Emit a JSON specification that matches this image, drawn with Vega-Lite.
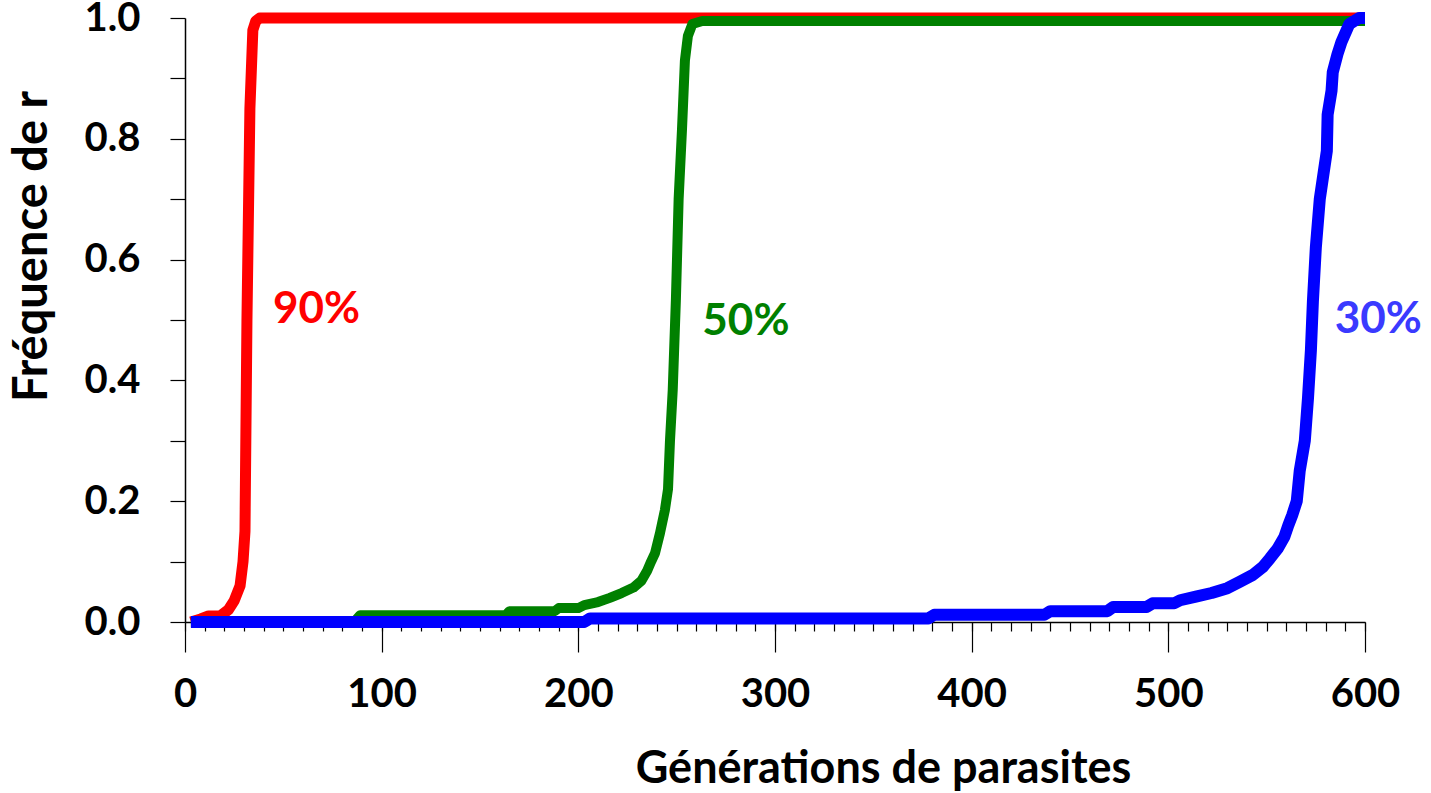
{
  "$schema": "https://vega.github.io/schema/vega-lite/v6.json",
  "width": 1180,
  "height": 604,
  "autosize": {"type": "none"},
  "padding": {"left": 185, "top": 18, "right": 66, "bottom": 171},
  "background": "white",
  "config": {"view": {"stroke": null}, "font": "Lato", "axis": {"grid": false}},
  "datasets": {
    "curves": [
      {"series": "90%", "x": 3, "y": 0},
      {"series": "90%", "x": 8, "y": 0.005},
      {"series": "90%", "x": 12, "y": 0.01},
      {"series": "90%", "x": 18, "y": 0.01},
      {"series": "90%", "x": 22, "y": 0.02},
      {"series": "90%", "x": 25, "y": 0.035},
      {"series": "90%", "x": 28, "y": 0.06},
      {"series": "90%", "x": 29.5, "y": 0.1},
      {"series": "90%", "x": 30.5, "y": 0.15},
      {"series": "90%", "x": 31.5, "y": 0.5},
      {"series": "90%", "x": 33, "y": 0.85},
      {"series": "90%", "x": 34.5, "y": 0.98},
      {"series": "90%", "x": 36, "y": 0.995},
      {"series": "90%", "x": 38, "y": 1.0},
      {"series": "90%", "x": 600, "y": 1.0},

      {"series": "50%", "x": 3, "y": 0},
      {"series": "50%", "x": 86, "y": 0},
      {"series": "50%", "x": 89, "y": 0.011},
      {"series": "50%", "x": 163, "y": 0.011},
      {"series": "50%", "x": 165, "y": 0.018},
      {"series": "50%", "x": 188, "y": 0.018},
      {"series": "50%", "x": 190, "y": 0.023},
      {"series": "50%", "x": 200, "y": 0.023},
      {"series": "50%", "x": 203, "y": 0.028},
      {"series": "50%", "x": 210, "y": 0.033},
      {"series": "50%", "x": 216, "y": 0.04},
      {"series": "50%", "x": 222, "y": 0.048},
      {"series": "50%", "x": 228, "y": 0.057},
      {"series": "50%", "x": 232, "y": 0.068},
      {"series": "50%", "x": 235, "y": 0.085},
      {"series": "50%", "x": 237, "y": 0.1},
      {"series": "50%", "x": 239, "y": 0.114},
      {"series": "50%", "x": 241.5, "y": 0.147},
      {"series": "50%", "x": 244, "y": 0.185},
      {"series": "50%", "x": 245.6, "y": 0.22},
      {"series": "50%", "x": 246.6, "y": 0.3},
      {"series": "50%", "x": 248, "y": 0.384},
      {"series": "50%", "x": 249.6, "y": 0.533},
      {"series": "50%", "x": 251, "y": 0.7},
      {"series": "50%", "x": 252.7, "y": 0.815},
      {"series": "50%", "x": 254.2, "y": 0.93},
      {"series": "50%", "x": 255.7, "y": 0.97},
      {"series": "50%", "x": 258, "y": 0.99},
      {"series": "50%", "x": 263, "y": 0.995},
      {"series": "50%", "x": 600, "y": 0.995},

      {"series": "30%", "x": 3, "y": 0},
      {"series": "30%", "x": 203, "y": 0},
      {"series": "30%", "x": 206, "y": 0.006},
      {"series": "30%", "x": 378, "y": 0.006},
      {"series": "30%", "x": 381, "y": 0.012},
      {"series": "30%", "x": 437, "y": 0.012},
      {"series": "30%", "x": 440, "y": 0.018},
      {"series": "30%", "x": 469, "y": 0.018},
      {"series": "30%", "x": 472, "y": 0.025},
      {"series": "30%", "x": 489, "y": 0.025},
      {"series": "30%", "x": 492, "y": 0.031},
      {"series": "30%", "x": 503, "y": 0.031},
      {"series": "30%", "x": 506, "y": 0.036},
      {"series": "30%", "x": 514, "y": 0.042},
      {"series": "30%", "x": 522, "y": 0.048},
      {"series": "30%", "x": 530, "y": 0.056},
      {"series": "30%", "x": 536, "y": 0.066},
      {"series": "30%", "x": 543, "y": 0.078},
      {"series": "30%", "x": 548, "y": 0.091},
      {"series": "30%", "x": 551.6, "y": 0.105},
      {"series": "30%", "x": 555.7, "y": 0.122},
      {"series": "30%", "x": 559, "y": 0.141},
      {"series": "30%", "x": 561, "y": 0.16},
      {"series": "30%", "x": 563, "y": 0.177},
      {"series": "30%", "x": 565.3, "y": 0.2},
      {"series": "30%", "x": 566.8, "y": 0.25},
      {"series": "30%", "x": 569.4, "y": 0.3},
      {"series": "30%", "x": 571, "y": 0.37},
      {"series": "30%", "x": 572.5, "y": 0.45},
      {"series": "30%", "x": 573.5, "y": 0.53},
      {"series": "30%", "x": 575, "y": 0.62},
      {"series": "30%", "x": 577, "y": 0.7},
      {"series": "30%", "x": 580.6, "y": 0.78},
      {"series": "30%", "x": 581, "y": 0.84},
      {"series": "30%", "x": 583, "y": 0.88},
      {"series": "30%", "x": 583.6, "y": 0.91},
      {"series": "30%", "x": 586, "y": 0.94},
      {"series": "30%", "x": 588, "y": 0.96},
      {"series": "30%", "x": 592, "y": 0.99},
      {"series": "30%", "x": 597, "y": 1.0},
      {"series": "30%", "x": 600, "y": 1.0}
    ],
    "labels": [
      {"series": "90%", "x": 66.9, "y": 0.517},
      {"series": "50%", "x": 285.2, "y": 0.496},
      {"series": "30%", "x": 606.8, "y": 0.5}
    ]
  },
  "resolve": {"axis": {"x": "independent", "y": "independent"}},
  "layer": [
    {
      "data": {"name": "curves"},
      "transform": [{"filter": "datum.series === '90%'"}],
      "mark": {"type": "line", "color": "#ff0000", "strokeWidth": 11, "strokeJoin": "round", "clip": false},
      "encoding": {
        "x": {
          "field": "x", "type": "quantitative",
          "scale": {"domain": [0, 600], "nice": false, "zero": false},
          "axis": {
            "orient": "bottom",
            "values": [0, 100, 200, 300, 400, 500, 600],
            "tickSize": 30, "tickColor": "black", "tickWidth": 1.2,
            "domainColor": "black", "domainWidth": 1.5,
            "labelFont": "Lato", "labelFontSize": 40, "labelFontWeight": "bold", "labelColor": "black",
            "labelPadding": 22, "labelFlush": false, "labelOverlap": false,
            "title": "Générations de parasites",
            "titleFont": "Lato", "titleFontSize": 45, "titleFontWeight": "bold", "titleColor": "black",
            "titleX": 698, "titleY": 146, "titleBaseline": "middle", "titleAlign": "center"
          }
        },
        "y": {
          "field": "y", "type": "quantitative",
          "scale": {"domain": [0, 1], "nice": false},
          "axis": {
            "orient": "left",
            "values": [0, 0.1, 0.2, 0.3, 0.4, 0.5, 0.6, 0.7, 0.8, 0.9, 1.0],
            "labelExpr": "round(datum.value * 10) % 2 ? '' : format(datum.value, '.1f')",
            "tickSize": 15, "tickColor": "black", "tickWidth": 1.2,
            "domainColor": "black", "domainWidth": 1.5,
            "labelFont": "Lato", "labelFontSize": 40, "labelFontWeight": "bold", "labelColor": "black",
            "labelPadding": 30, "labelFlush": false, "labelOverlap": false,
            "title": "Fréquence de r",
            "titleFont": "Lato", "titleFontSize": 47, "titleFontWeight": "bold", "titleColor": "black",
            "titleX": -153, "titleY": 228, "titleBaseline": "middle", "titleAlign": "center", "titleAngle": -90
          }
        }
      }
    },
    {
      "data": {"name": "curves"},
      "transform": [{"filter": "datum.series === '50%'"}],
      "mark": {"type": "line", "color": "#008000", "strokeWidth": 10, "strokeJoin": "round", "clip": false},
      "encoding": {
        "x": {
          "field": "x", "type": "quantitative",
          "axis": {
            "orient": "bottom",
            "values": [0,10,20,30,40,50,60,70,80,90,100,110,120,130,140,150,160,170,180,190,200,210,220,230,240,250,260,270,280,290,300,310,320,330,340,350,360,370,380,390,400,410,420,430,440,450,460,470,480,490,500,510,520,530,540,550,560,570,580,590,600],
            "tickSize": 9, "tickColor": "black", "tickWidth": 1.2,
            "domain": false, "labels": false, "title": null
          }
        },
        "y": {"field": "y", "type": "quantitative", "axis": null}
      }
    },
    {
      "data": {"name": "curves"},
      "transform": [{"filter": "datum.series === '30%'"}],
      "mark": {"type": "line", "color": "#0000ff", "strokeWidth": 12, "strokeJoin": "round", "clip": false},
      "encoding": {
        "x": {"field": "x", "type": "quantitative", "axis": null},
        "y": {"field": "y", "type": "quantitative", "axis": null}
      }
    },
    {
      "mark": {"type": "rule", "color": "black", "strokeWidth": 1.5},
      "encoding": {
        "x": {"datum": 0, "type": "quantitative", "axis": null},
        "x2": {"datum": 600},
        "y": {"datum": 1, "type": "quantitative", "axis": null}
      }
    },
    {
      "data": {"name": "labels"},
      "mark": {"type": "text", "font": "Lato", "fontSize": 44, "fontWeight": "bold", "align": "center", "baseline": "middle", "clip": false},
      "encoding": {
        "x": {"field": "x", "type": "quantitative", "axis": null},
        "y": {"field": "y", "type": "quantitative", "axis": null},
        "text": {"field": "series"},
        "color": {
          "field": "series", "type": "nominal", "legend": null,
          "scale": {"domain": ["90%", "50%", "30%"], "range": ["#ff0000", "#008000", "#3a3aff"]}
        }
      }
    }
  ]
}
